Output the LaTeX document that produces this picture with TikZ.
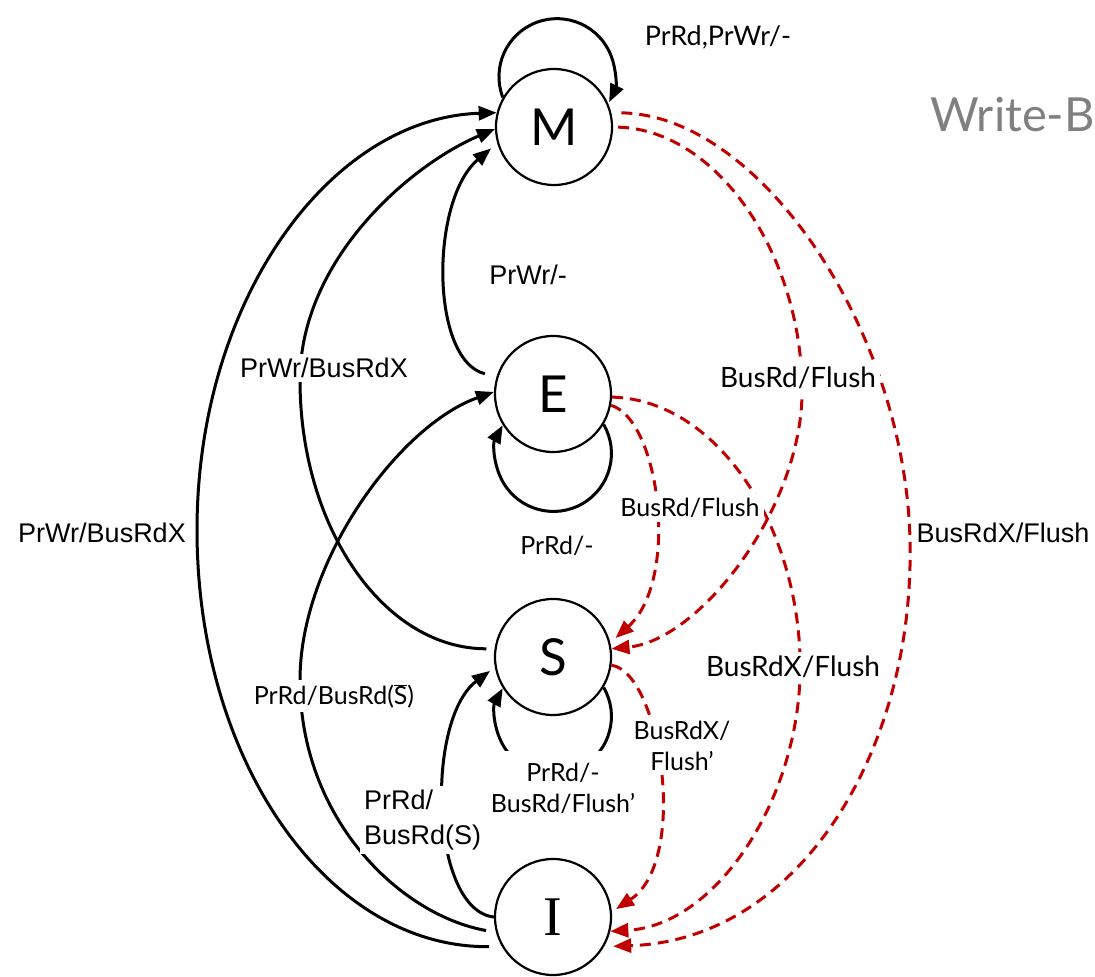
\documentclass[tikz,border=0pt]{standalone}
\usepackage{fontspec}
\newfontfamily\arialfont{Liberation Sans}
\newfontfamily\gillfont{Lato}
\newfontfamily\serifletter{Liberation Serif}
\usetikzlibrary{arrows.meta}
\definecolor{snoopred}{HTML}{C00000}
\definecolor{titlegray}{HTML}{808080}
\begin{document}
\begin{tikzpicture}[x=1pt,y=-1pt,
  state/.style={circle,draw,line width=2.2pt,minimum size=116pt,inner sep=0pt,fill=white,
    font=\fontsize{51}{56}\selectfont\gillfont},
  conn/.style={line width=3pt,-{Triangle[length=18pt,width=14pt]}},
  snoop/.style={conn,draw=snoopred,dash pattern=on 11pt off 7pt},
  lbl/.style={fill=white,inner sep=4pt,font=\fontsize{25}{31}\selectfont\gillfont},
  biglbl/.style={lbl,font=\fontsize{28}{33}\selectfont\gillfont},
  albl/.style={fill=white,inner sep=4pt,font=\fontsize{27}{35}\selectfont\arialfont},
]
\useasboundingbox (0,0) rectangle (1095,977);
\clip (0,0) rectangle (1095,977);

% states
\node[state] (M) at (554,127) {M};
\node[state] (E) at (553,394) {E};
\node[state] (S) at (553,657) {S};
\node[state,font=\fontsize{56}{60}\selectfont\serifletter] (I) at (553,917) {I};

% self loops
\draw[conn] (M.150) arc[start angle=201,end angle=-26,radius=58pt];
\draw[conn] (E.-31) arc[start angle=30,end angle=-209,radius=58pt];
\draw[conn] (S.-31) arc[start angle=30,end angle=-209,radius=58pt];

% processor-side transitions
\draw[conn,shorten <=13pt] (I.210) .. controls (328,948) and (197,762) .. (197,530)
      .. controls (197,300) and (330,118) .. (M.166);
\draw[conn,shorten <=8pt] (S.172) .. controls (384,649) and (300,528) .. (300,380)
      .. controls (300,260) and (410,165) .. (M.182);
\draw[conn,shorten <=10pt] (I.195) .. controls (400,915) and (300,819) .. (300,680)
      .. controls (300,560) and (400,425) .. (E.178);
\draw[conn,shorten <=12pt,shorten >=8pt] (E.163) .. controls (430,360) and (430,200) .. (M.196);
\draw[conn,shorten >=6pt] (I.180) .. controls (430,910) and (425,720) .. (S.190);

% bus-side transitions
\draw[snoop,shorten <=5pt] (M.east) .. controls (720,130) and (804,260) .. (802,395)
      .. controls (800,510) and (700,640) .. (S.8);
\draw[snoop,shorten <=10pt,shorten >=9pt] (M.14) .. controls (760,115) and (905,330) .. (910,540)
      .. controls (915,750) and (800,940) .. (I.-30);
\draw[snoop,shorten >=7pt] (E.-11) .. controls (660,420) and (680,580) .. (S.14);
\draw[snoop] (E.-3) .. controls (715,400) and (795,520) .. (800,655)
      .. controls (805,790) and (720,925) .. (I.-14);
\draw[snoop,shorten >=5pt] (S.-8) .. controls (660,672) and (690,860) .. (I.5);

% transition labels
\node[lbl,font=\fontsize{27}{31}\selectfont\gillfont] (lmloop) at (718,37) {PrRd,PrWr/-};
\node[albl] (lem) at (528,275) {PrWr/-};
\node[albl] (lsm) at (324,368) {PrWr/BusRdX};
\node[biglbl] (lms) at (798,378) {BusRd/Flush};
\node[lbl] (les) at (690,508) {BusRd/Flush};
\node[lbl] (leloop) at (557,546) {PrRd/-};
\node[albl] (lim) at (102,533) {PrWr/BusRdX};
\node[albl] (lmi) at (1003,533) {BusRdX/Flush};
\node[biglbl] (lei) at (793,667) {BusRdX/Flush};
\node[lbl] (lie) at (334,696) {PrRd/BusRd($\overline{\mbox{S}}$)};
\node[lbl,align=center] (lsi) at (682,746) {BusRdX/\\Flush’};
\node[lbl,align=center,inner ysep=12pt] (lsloop) at (563,788) {PrRd/-\\BusRd/Flush’};
\node[albl,align=left,anchor=west] (lis) at (360,820) {PrRd/\\BusRd(S)};

% heading
\node[anchor=base west,inner sep=0pt,text=titlegray,font=\fontsize{47}{54}\selectfont\gillfont] (title) at (930,131) {Write-B};
\end{tikzpicture}
\end{document}
